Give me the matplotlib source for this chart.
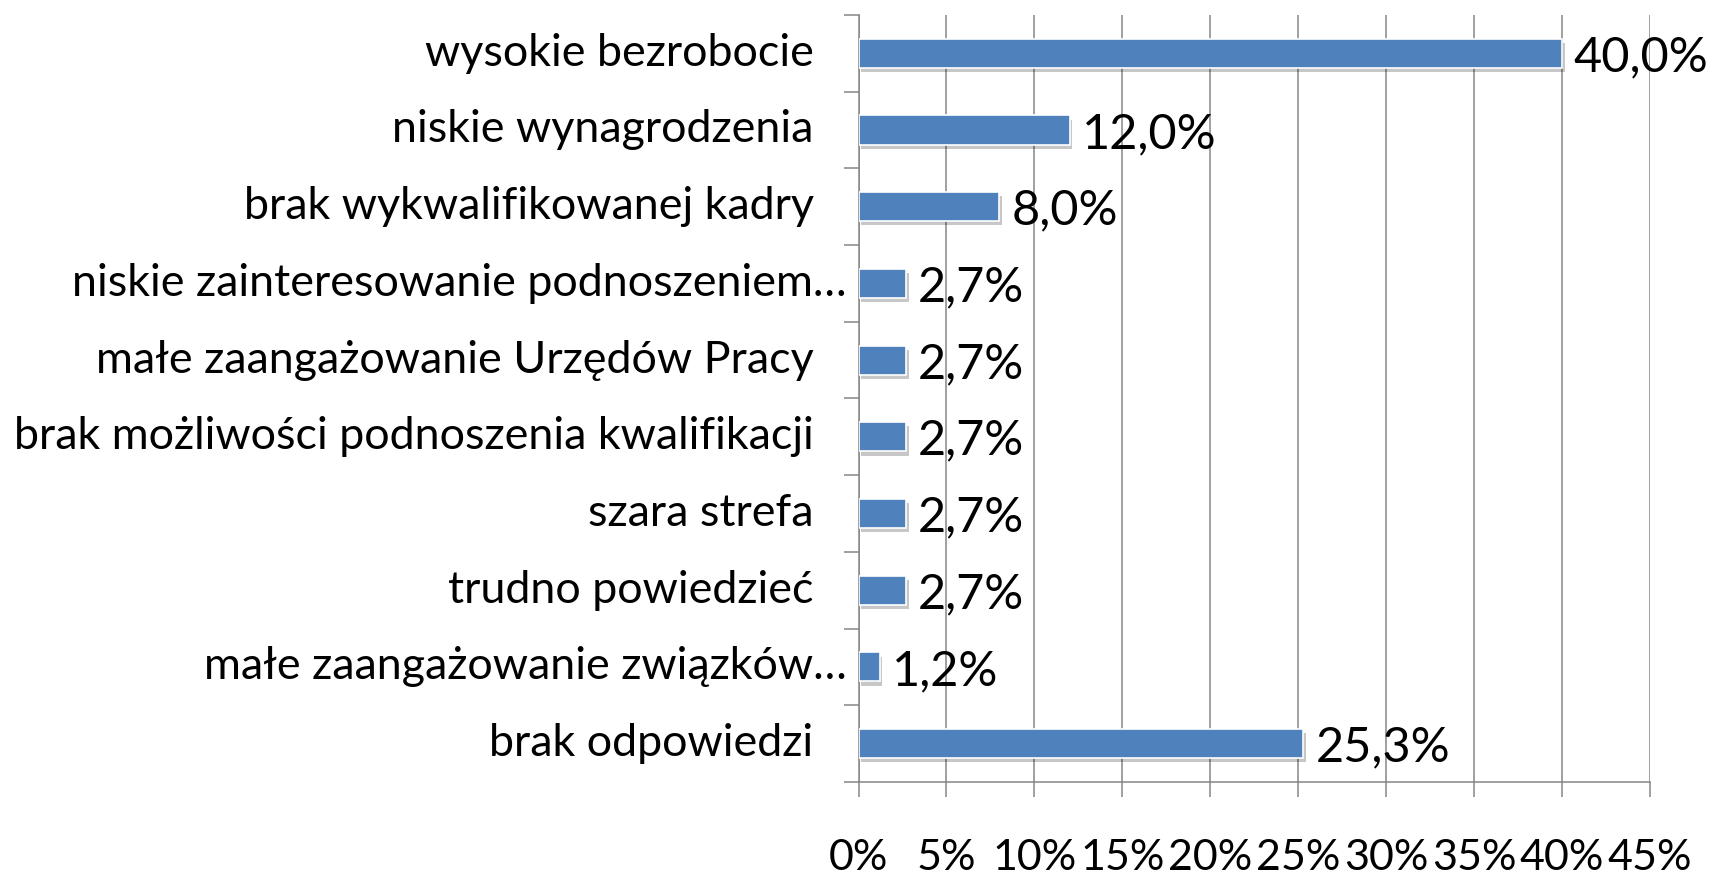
import numpy as np
import matplotlib; matplotlib.use("Agg"); import matplotlib.pyplot as plt
import matplotlib.patheffects as pe
import matplotlib.transforms as mtransforms

categories = ["wysokie bezrobocie", "niskie wynagrodzenia", "brak wykwalifikowanej kadry",
              "niskie zainteresowanie podnoszeniem…", "małe zaangażowanie Urzędów Pracy",
              "brak możliwości podnoszenia kwalifikacji", "szara strefa", "trudno powiedzieć",
              "małe zaangażowanie związków…", "brak odpowiedzi"]
values = [40.0, 12.0, 8.0, 2.7, 2.7, 2.7, 2.7, 2.7, 1.2, 25.3]
xticks = [0, 5, 10, 15, 20, 25, 30, 35, 40, 45]

BLUE, GRID = "#4f81bd", "#868686"
plt.rcParams["font.family"] = ["Lato", "DejaVu Sans"]

fig = plt.figure(figsize=(17.15, 8.75), dpi=100)
ax = fig.add_axes([0.5006, 0.1063, 0.962 - 0.5006, 0.983 - 0.1063])
y = np.arange(len(categories))
bars = ax.barh(y, values, height=0.38, color=BLUE, edgecolor="white", lw=1.2, zorder=3)
for b in bars:
    b.set_path_effects([pe.SimplePatchShadow(offset=(2, -3), shadow_rgbFace="#000000", alpha=0.22),
                        pe.Normal()])

ax.set_xlim(0, 45); ax.set_ylim(len(categories) - 0.5, -0.5)
ax.set_xticks(xticks)
ax.set_xticklabels([f"{t}%" for t in xticks], fontsize=31)
ax.tick_params(axis="x", length=11, width=1.1, color=GRID, pad=30)
ax.grid(axis="x", color=GRID, lw=1.1, zorder=0)
ax.set_yticks(np.arange(len(categories) + 1) - 0.5)
ax.set_yticklabels([])
ax.tick_params(axis="y", length=11, width=1.1, color=GRID)
for s in ["top", "right"]:
    ax.spines[s].set_visible(False)
for s in ["left", "bottom"]:
    ax.spines[s].set_color(GRID); ax.spines[s].set_linewidth(1.1)

# category labels: truncated ones sit closer to the axis
for i, lab in enumerate(categories):
    off = -12 if lab.endswith("…") else -45
    tr = ax.get_yaxis_transform() + mtransforms.ScaledTranslation(off / 100, 0, fig.dpi_scale_trans)
    ax.text(0, i, lab, transform=tr, ha="right", va="center", fontsize=32.3)

for i, v in enumerate(values):
    tr = ax.transData + mtransforms.ScaledTranslation(12 / 100, -4 / 100, fig.dpi_scale_trans)
    ax.text(v, i, f"{v:.1f}%".replace(".", ","), transform=tr, ha="left", va="center",
            fontsize=35, zorder=5)

fig.savefig("out.png", dpi=100)
